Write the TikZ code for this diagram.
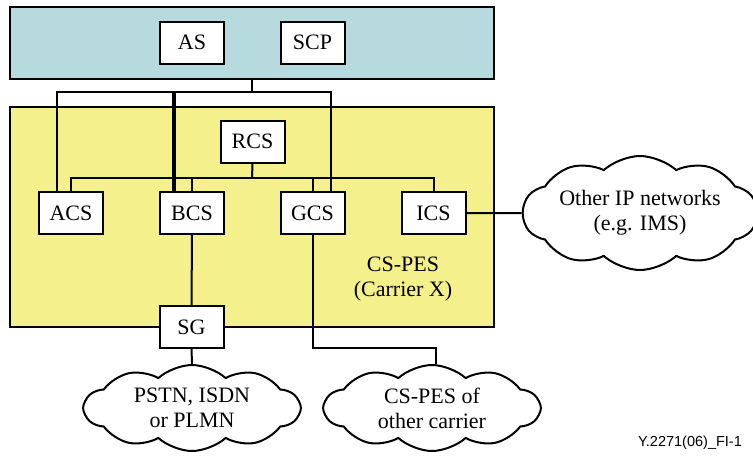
\documentclass[tikz,border=0pt]{standalone}
\usepackage{fontspec}
\setmainfont{Liberation Serif}
\newfontfamily\labelfont{Liberation Sans}
\usetikzlibrary{shapes.symbols,calc}
\definecolor{svcblue}{RGB}{182,218,222}
\definecolor{pesyellow}{RGB}{244,240,140}
\begin{document}
\begin{tikzpicture}[x=1pt,y=-1pt,
  every node/.style={font=\fontsize{22}{25}\selectfont},
  fn/.style={draw, fill=white, line width=2pt, minimum width=64pt, minimum height=42pt, inner sep=0pt},
  area/.style={draw, line width=2pt, inner sep=0pt},
  conn/.style={line width=2pt},
  heavy/.style={line width=3.4pt},
  net/.style={cloud, draw, fill=white, line width=2pt, cloud puffs=10, cloud puff arc=85, cloud ignores aspect, inner sep=0pt, align=center}]
\useasboundingbox (0,0) rectangle (753,456);
% areas
\node[area, fill=svcblue, minimum width=484pt, minimum height=72pt] (svc) at (252,43) {};
\node[area, fill=pesyellow, minimum width=484pt, minimum height=220pt] (pes) at (252,217) {};
% functional boxes
\node[fn] (AS)  at (192,42.5)  {AS};
\node[fn] (SCP) at (312.5,42.5) {SCP};
\node[fn] (RCS) at (252.5,141.5) {RCS};
\node[fn] (ACS) at (71,213) {ACS};
\node[fn] (BCS) at (192,213) {BCS};
\node[fn] (GCS) at (312.5,213) {GCS};
\node[fn] (ICS) at (433.5,213) {ICS};
\node[fn] (SG)  at (191.5,327) {SG};
\node[align=center] (pestext) at (403,279) {CS-PES\\(Carrier X)};
% clouds
\node[net, minimum width=215pt, minimum height=86pt] (pstn) at (192,408) {PSTN, ISDN\\or PLMN};
\node[net, minimum width=215pt, minimum height=86pt] (other) at (432,408) {CS-PES of\\other carrier};
\node[net, minimum width=234pt, minimum height=114pt] (ipnet) at (640,213) {Other IP networks\\(e.g. IMS)};
\node[font=\labelfont\fontsize{14.5}{16}\selectfont] (figid) at (690,443) {Y.2271(06)\_FI-1};
% connectors
\coordinate (busT) at (252,92);
\coordinate (busR) at (252,178);
\coordinate (gk) at (436,348);
\draw[conn] (svc.south) -- (busT);
\draw[conn] ([xshift=-14pt]ACS.north) |- (busT) -| ([xshift=18.5pt]GCS.north);
\draw[heavy] ([xshift=-18pt]BCS.north) -- ([xshift=-18pt]BCS.north |- busT);
\draw[conn] (RCS.south) -- (busR);
\draw[conn] (ACS.north) |- (busR) -| (ICS.north);
\draw[conn] (BCS.north) -- (BCS.north |- busR);
\draw[conn] (GCS.north) -- (GCS.north |- busR);
\draw[conn] (BCS.south) -- (SG.north);
\draw[conn] (SG.south) -- (pstn.north);
\draw[conn] (GCS.south) |- (gk) -- (gk |- other.north);
\draw[conn] (ICS.east) -- (ipnet.west);
\end{tikzpicture}
\end{document}
